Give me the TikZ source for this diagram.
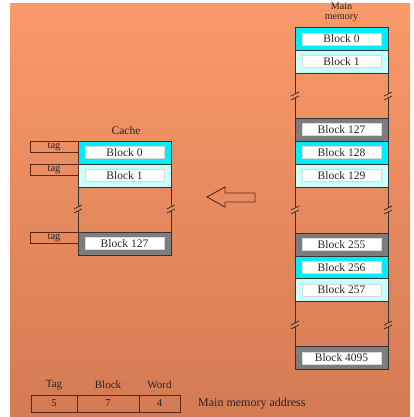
\documentclass[tikz,border=0pt]{standalone}
\usepackage{fontspec}
\setmainfont{Liberation Serif}
\definecolor{cyA}{RGB}{0,238,250}
\definecolor{cyB}{RGB}{200,255,255}
\definecolor{grC}{RGB}{125,125,125}
\definecolor{brn}{RGB}{90,40,25}
\definecolor{ortop}{RGB}{250,153,105}
\definecolor{orbot}{RGB}{212,122,84}
\newcommand\gapside[4]{%
  \draw[edge] (#1,#2) -- (#1,#3-2);
  \draw[edge] (#1,#3+2) -- (#1,#4);
  \draw[edge] (#1-4,#3) -- (#1+4,#3-4);
  \draw[edge] (#1-4,#3+4) -- (#1+4,#3);
}
\begin{document}
\begin{tikzpicture}[x=1pt,y=-1pt,
  edge/.style={draw=black!80, line width=0.8pt},
  cell/.style={draw=black!80, line width=0.8pt, minimum width=93pt, minimum height=23pt, inner sep=0pt, outer sep=0pt},
  blk/.style={fill=white, draw=white!85!black, line width=0.3pt, minimum width=79pt, minimum height=12pt, inner sep=0pt, font=\fontsize{11.5}{11.5}\selectfont, text=black!85},
  tagbox/.style={draw=brn, line width=0.8pt, minimum width=48pt, minimum height=11pt, inner sep=0pt, font=\fontsize{10.5}{10.5}\selectfont, text=black!85},
  field/.style={draw=brn, line width=0.8pt, minimum height=17pt, inner sep=0pt, font=\fontsize{10.5}{10.5}\selectfont, text=black!85},
  lab/.style={inner sep=0pt, text=black!85, font=\fontsize{11}{11}\selectfont}
]
\useasboundingbox (0,0) rectangle (414,417);
\fill[white] (0,0) rectangle (414,417);
\shade[top color=ortop, bottom color=orbot] (10,4) rectangle (410,417);

% Main memory
\node[lab, align=center, font=\fontsize{10}{10}\selectfont] (mmlab) at (341.5,12.5) {Main\\memory};
\node[cell, fill=cyA] (m0) at (341.5,39) {};
\node[blk] (m0l) at (m0) {Block 0};
\node[cell, fill=cyB] (m1) at (341.5,61.5) {};
\node[blk] (m1l) at (m1) {Block 1};
\node[cell, fill=grC] (m127) at (341.5,129.5) {};
\node[blk] (m127l) at (m127) {Block 127};
\node[cell, fill=cyA] (m128) at (341.5,152.5) {};
\node[blk] (m128l) at (m128) {Block 128};
\node[cell, fill=cyB] (m129) at (341.5,175.5) {};
\node[blk] (m129l) at (m129) {Block 129};
\node[cell, fill=grC] (m255) at (341.5,244.5) {};
\node[blk] (m255l) at (m255) {Block 255};
\node[cell, fill=cyA] (m256) at (341.5,267.5) {};
\node[blk] (m256l) at (m256) {Block 256};
\node[cell, fill=cyB] (m257) at (341.5,290) {};
\node[blk] (m257l) at (m257) {Block 257};
\node[cell, fill=grC] (m4095) at (341.5,358) {};
\node[blk] (m4095l) at (m4095) {Block 4095};

\gapside{295}{73}{96}{118}
\gapside{388}{73}{96}{118}
\gapside{295}{187}{210}{233}
\gapside{388}{187}{210}{233}
\gapside{295}{301.5}{325}{346.5}
\gapside{388}{301.5}{325}{346.5}

% Cache
\node[lab, font=\fontsize{11.5}{11.5}\selectfont] (clab) at (126,131) {Cache};
\node[cell, fill=cyA] (c0) at (124.5,152.5) {};
\node[blk] (c0l) at (c0) {Block 0};
\node[cell, fill=cyB] (c1) at (124.5,175.5) {};
\node[blk] (c1l) at (c1) {Block 1};
\node[cell, fill=grC] (c127) at (124.5,243.5) {};
\node[blk] (c127l) at (c127) {Block 127};
\gapside{78}{187}{209}{232}
\gapside{171}{187}{209}{232}

\node[tagbox] (t0) at (54,146.5) {tag};
\node[tagbox] (t1) at (54,169.5) {tag};
\node[tagbox] (t127) at (54,238) {tag};

% Arrow
\draw[brn, line width=0.9pt, line join=miter] (207,197) -- (225,187) -- (225,193) -- (255,193) -- (255,202) -- (225,202) -- (225,207) -- cycle;

% Address format
\node[field, minimum width=46pt] (ftag) at (54,403.5) {5};
\node[field, minimum width=62pt] (fblk) at (108,403.5) {7};
\node[field, minimum width=41pt] (fword) at (159.5,403.5) {4};
\node[lab] (ltag) at (54,385) {Tag};
\node[lab] (lblk) at (108,385) {Block};
\node[lab] (lword) at (159.5,385) {Word};
\node[lab, anchor=west, font=\fontsize{12}{12}\selectfont] (maddr) at (198,404) {Main memory address};
\end{tikzpicture}
\end{document}
